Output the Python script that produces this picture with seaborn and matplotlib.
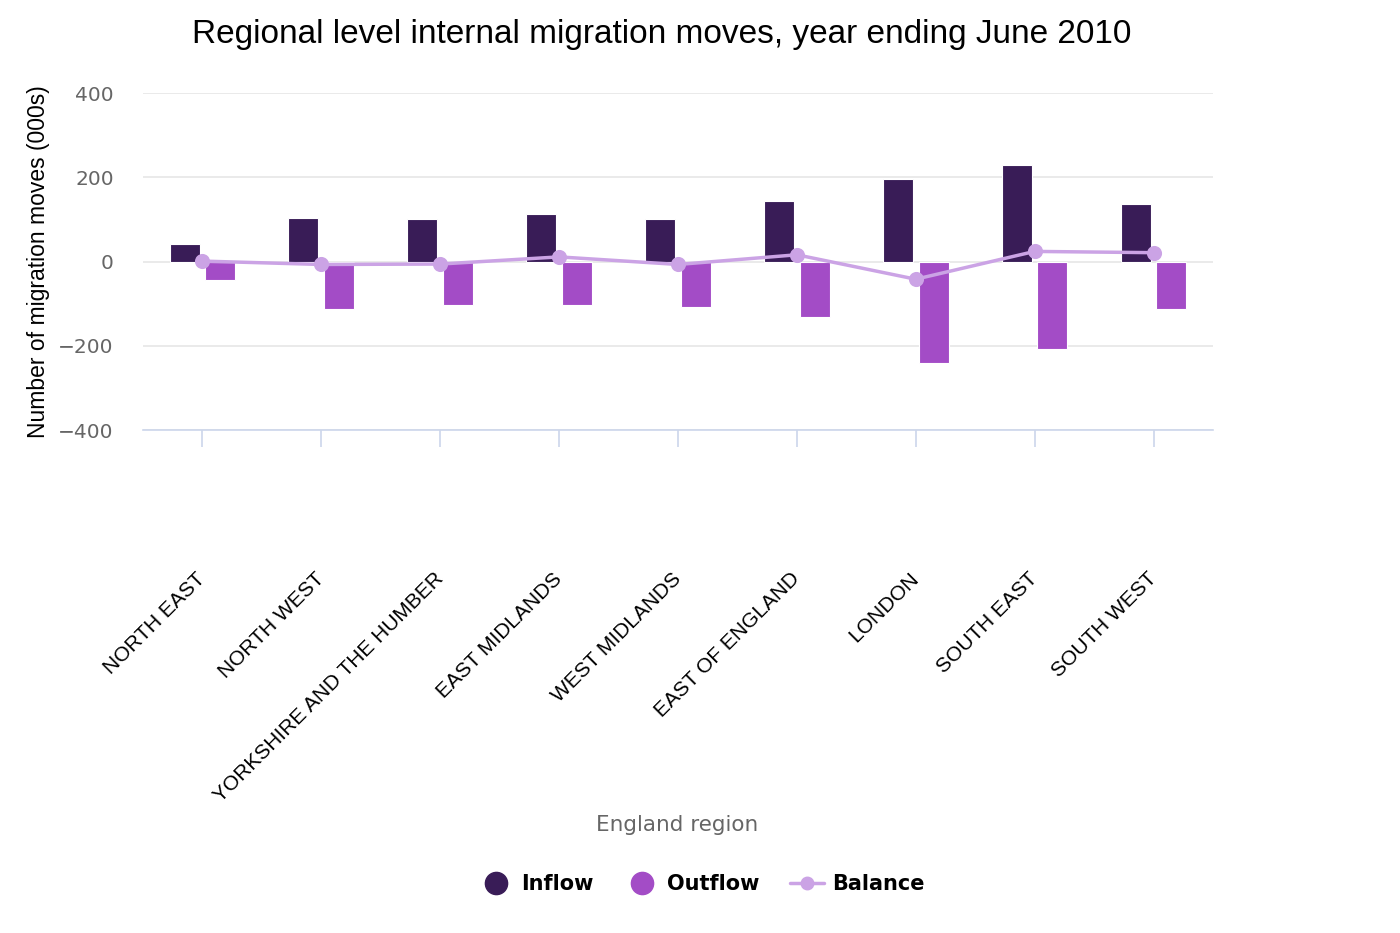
import pandas as pd
import matplotlib.pyplot as plt
import seaborn as sns
from matplotlib.lines import Line2D

# values (thousands of moves)
regions = ['NORTH EAST', 'NORTH WEST', 'YORKSHIRE AND THE HUMBER', 'EAST MIDLANDS',
           'WEST MIDLANDS', 'EAST OF ENGLAND', 'LONDON', 'SOUTH EAST', 'SOUTH WEST']
inflow = [42, 104, 100, 113, 100, 143, 197, 228, 136]
outflow = [-43, -113, -104, -104, -109, -131, -242, -207, -113]
balance = [1, -7, -6, 11, -7, 16, -42, 24, 21]

c_in = '#391C57'
c_out = '#A34CC6'
c_bal = '#CBA3E5'

df = pd.DataFrame({
    'region': regions * 2,
    'value': inflow + outflow,
    'flow': ['Inflow'] * len(regions) + ['Outflow'] * len(regions),
})
bal = pd.DataFrame({'region': regions, 'balance': balance})

sns.set_theme(style="white")
plt.rcParams['font.family'] = ['DejaVu Sans']

fig = plt.figure(figsize=(14, 9.33), dpi=100)
ax = fig.add_axes([0.1021, 0.5391, 0.7643, 0.3612])

sns.barplot(data=df, x='region', y='value', hue='flow', order=regions,
            hue_order=['Inflow', 'Outflow'], palette=[c_in, c_out], saturation=1,
            width=0.6, gap=0.16, dodge=True, edgecolor='white', linewidth=0.8,
            legend=False, ax=ax, zorder=2)
sns.pointplot(data=bal, x='region', y='balance', order=regions, color=c_bal,
              markers='o', markersize=9, linewidth=2.5, ax=ax, zorder=3)

ax.set_xlim(-0.5, 8.5)
ax.set_ylim(-400, 400)
ax.set_yticks([-400, -200, 0, 200, 400])
ax.set_yticklabels(['\u2212400', '\u2212200', '0', '200', '400'])
ax.yaxis.grid(True, color='#e6e6e6', linewidth=1.2, zorder=0)
ax.set_axisbelow(True)
for s in ['top', 'right', 'left']:
    ax.spines[s].set_visible(False)
ax.spines['bottom'].set_color('#ccd6eb')
ax.spines['bottom'].set_linewidth(1.2)
ax.spines['bottom'].set_position(('data', -400))

ax.tick_params(axis='y', length=0, pad=21, labelsize=14.5, labelcolor='#666666')
ax.tick_params(axis='x', length=12, width=1.2, color='#ccd6eb', direction='out',
               bottom=True, pad=93)
ax.set_xticks(range(len(regions)))
ax.set_xticklabels(regions, rotation=45, ha='right', va='center',
                   rotation_mode='anchor', fontsize=15,
                   family='Liberation Sans', color='black')

ax.set_xlabel('')
ax.set_ylabel('Number of migration moves (000s)', fontsize=16.5,
              family='Liberation Sans', color='black', labelpad=6)

fig.text(662 / 1400, 1 - 34 / 933, 'Regional level internal migration moves, year ending June 2010',
         ha='center', va='center', fontsize=24, family='Liberation Sans', color='black')
fig.text(677 / 1400, 1 - 825 / 933, 'England region', ha='center', va='center',
         fontsize=15.5, color='#666666')

handles = [
    Line2D([], [], linestyle='none', marker='o', markersize=16, color=c_in),
    Line2D([], [], linestyle='none', marker='o', markersize=16, color=c_out),
    Line2D([], [], linestyle='-', linewidth=2.5, marker='o', markersize=9, color=c_bal),
]
fig.legend(handles, ['Inflow', 'Outflow', 'Balance'], loc='center',
           bbox_to_anchor=(702 / 1400, 1 - 884 / 933), ncol=3, frameon=False,
           prop={'weight': 'bold', 'size': 15}, labelcolor='black', handlelength=1.6,
           handletextpad=0.4, columnspacing=1.5)

fig.savefig('out.png', dpi=100, facecolor='white')
